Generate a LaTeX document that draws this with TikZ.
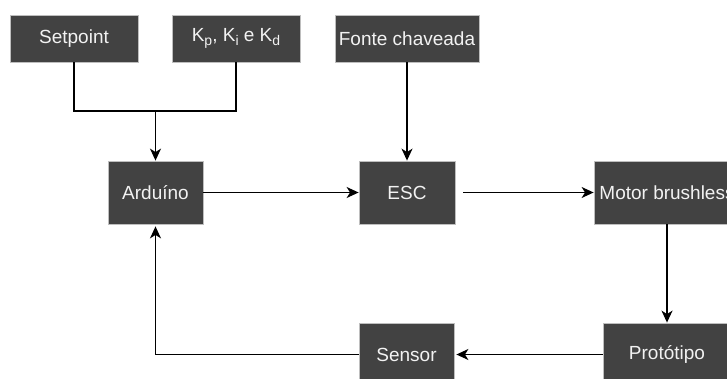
\documentclass[tikz,border=0pt]{standalone}
\usepackage{fontspec}
\setmainfont{Liberation Sans}
\usetikzlibrary{arrows.meta}
\definecolor{boxfill}{RGB}{66,66,66}
\definecolor{boxline}{RGB}{190,190,190}
\definecolor{boxtext}{RGB}{242,242,242}
\tikzset{
  blk/.style={draw=boxline, line width=0.8pt, fill=boxfill, text=boxtext,
    minimum width=#1, inner sep=0pt, font=\fontsize{19}{23}\selectfont},
  blk/.default=95pt,
  conn/.style={line width=1.4pt, draw=black},
  arr/.style={conn, -{Stealth[length=12pt,width=11pt,inset=3.5pt]}},
}
\newcommand{\subsc}[1]{\raisebox{-0.4ex}{\fontsize{14}{14}\selectfont #1}}
\begin{document}
\begin{tikzpicture}[x=1pt,y=-1pt]
\useasboundingbox (0,0) rectangle (727,379);
\clip (0,0) rectangle (727,379);
\fill[white] (0,0) rectangle (727,379);
% nodes
\node[blk=128pt, minimum height=47pt] (setpoint) at (74,38.5) {Setpoint};
\node[blk=128pt, minimum height=47pt] (kpkikd) at (236,38.5) {K\subsc{p}, K\subsc{i} e K\subsc{d}};
\node[blk=144pt, minimum height=47pt] (fonte) at (407,38.5) {Fonte chaveada};
\node[blk=95pt, minimum height=63pt] (arduino) at (155.5,192.5) {Arduíno};
\node[blk=96pt, minimum height=63pt] (esc) at (407,192.5) {ESC};
\node[blk=146pt, minimum height=63pt] (motor) at (667,192.5) {Motor brushless};
\node[blk=128pt, minimum height=63pt] (proto) at (667,354.5) {Protótipo};
\node[blk=95pt, minimum height=63pt] (sensor) at (406.5,354.5) {Sensor};
\coordinate (junc) at (155.5,111);
% connectors
\draw[conn] (setpoint.south) |- (junc);
\draw[conn] (kpkikd.south) |- (junc);
\draw[arr] (junc) -- (arduino.north);
\draw[arr] (fonte.south) -- (esc.north);
\draw[arr] (arduino.east) -- (esc.west);
\draw[arr, shorten <=8pt] (esc.east) -- (motor.west);
\draw[arr] (motor.south) -- (proto.north);
\draw[arr, shorten >=2pt] (proto.west) -- (sensor.east);
\draw[arr, shorten >=2pt] (sensor.west) -| (arduino.south);
\end{tikzpicture}
\end{document}
